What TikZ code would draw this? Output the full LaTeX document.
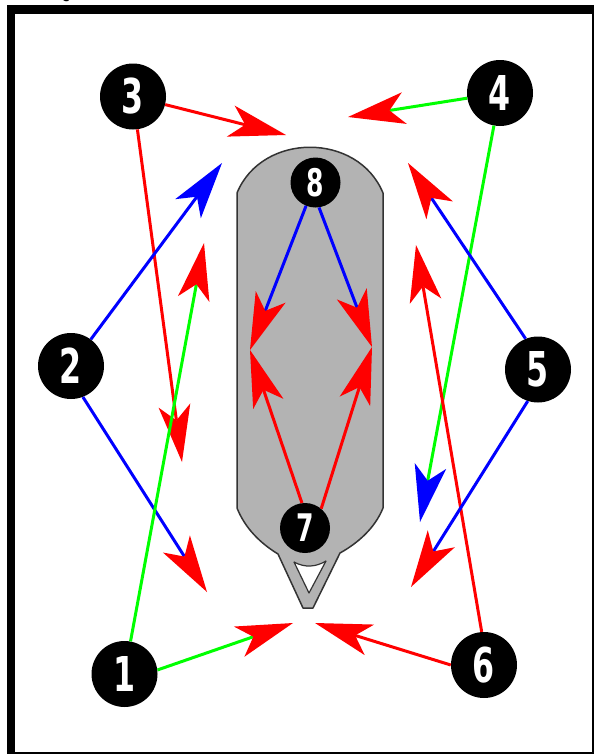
\documentclass[tikz,border=0pt]{standalone}
\usepackage{fontspec}
\usepackage{graphicx}
\usetikzlibrary{arrows.meta}
\newfontfamily\numfont{DejaVu Sans}
\newfontfamily\qfont{Liberation Serif}
\definecolor{rd}{RGB}{255,0,0}
\definecolor{gn}{RGB}{0,255,0}
\definecolor{bl}{RGB}{0,0,255}
\definecolor{hullgray}{RGB}{179,179,179}
\newcommand{\bignumtxt}[1]{\scalebox{0.66}[1]{\fontsize{48}{48}\selectfont\numfont\bfseries #1}}
\newcommand{\smallnumtxt}[1]{\scalebox{0.66}[1]{\fontsize{38}{38}\selectfont\numfont\bfseries #1}}
\tikzset{
  bignum/.style={circle, fill=black, minimum size=66pt, inner sep=0pt, text=white},
  smallnum/.style={circle, fill=black, minimum size=50pt, inner sep=0pt, text=white},
  conn/.style={line width=3pt},
  rhead/.style={-{Stealth[length=57pt,width=32pt,inset=15pt,color=rd,line width=0pt]}},
  bhead/.style={-{Stealth[length=57pt,width=32pt,inset=15pt,color=bl,line width=0pt]}},
  hull/.style={fill=hullgray, draw=black!80, line width=1.5pt, line join=round},
}
\begin{document}
\begin{tikzpicture}[x=1pt,y=-1pt]
\useasboundingbox (0,0) rectangle (595,755);
% frame
\fill[black] (7,5) rectangle (593.5,753.5);
\fill[white] (15,14) rectangle (591.5,751.5);
% cut-off caption letter
\node[anchor=base west, inner sep=0pt, font=\qfont\bfseries\fontsize{20}{20}\selectfont] (q) at (54,-1.5) {Q};
% hull
\draw[hull] (237,193) .. controls (262,132) and (358,132) .. (383,193)
  -- (383,508) .. controls (375,528) and (358,543) .. (340,553)
  -- (313,608) -- (303,608) -- (278,554)
  .. controls (260,543) and (245,528) .. (237,508) -- cycle;
\draw[fill=white, draw=black!80, line width=1.2pt, line join=round]
  (294,562) .. controls (305,568) and (316,567) .. (326,561) -- (309,593) -- cycle;
% nodes
\node[bignum] (n1) at (124.5,674) {\bignumtxt{1}};
\node[bignum] (n2) at (71,366) {\bignumtxt{2}};
\node[bignum] (n3) at (133,96.5) {\bignumtxt{3}};
\node[bignum] (n4) at (500,93) {\bignumtxt{4}};
\node[bignum] (n5) at (538,369.5) {\bignumtxt{5}};
\node[bignum] (n6) at (484,665) {\bignumtxt{6}};
\node[smallnum] (n7) at (305,528) {\smallnumtxt{7}};
\node[smallnum] (n8) at (315.5,182.5) {\smallnumtxt{8}};
% arrow tips
\coordinate (t3r) at (286,135);
\coordinate (t3d) at (182,462);
\coordinate (t4l) at (348,117);
\coordinate (t4d) at (420,522);
\coordinate (t2u) at (222,163);
\coordinate (t2d) at (207,592);
\coordinate (t1u) at (204,243);
\coordinate (t1r) at (293,623);
\coordinate (t6l) at (315,623);
\coordinate (t6u) at (416,245);
\coordinate (t5u) at (408,163);
\coordinate (t5d) at (411,587);
\coordinate (t8l) at (250,350);
\coordinate (t8r) at (372,347);
\coordinate (t7l) at (250,350);
\coordinate (t7r) at (372,347);
% connectors
\begin{scope}[on background layer/.style={}]
\draw[conn, bl, rhead] (n8.-112) -- (t8l);
\draw[conn, bl, rhead] (n8.-82) -- (t8r);
\draw[conn, rd, rhead] (n7.97) -- (t7l);
\draw[conn, rd, rhead] (n7.50) -- (t7r);
\draw[conn, rd, rhead] (n3) -- (t3r);
\draw[conn, rd, rhead] (n3) -- (t3d);
\draw[conn, gn, rhead] (n4) -- (t4l);
\draw[conn, gn, bhead] (n4) -- (t4d);
\draw[conn, bl, bhead] (n2) -- (t2u);
\draw[conn, bl, rhead] (n2.-69) -- (t2d);
\draw[conn, gn, rhead] (n1) -- (t1u);
\draw[conn, gn, rhead] (n1.7) -- (t1r);
\draw[conn, rd, rhead] (n6.180) -- (t6l);
\draw[conn, rd, rhead] (n6.94) -- (t6u);
\draw[conn, bl, rhead] (n5.112) -- (t5u);
\draw[conn, bl, rhead] (n5.-108) -- (t5d);
\end{scope}
\end{tikzpicture}
\end{document}
